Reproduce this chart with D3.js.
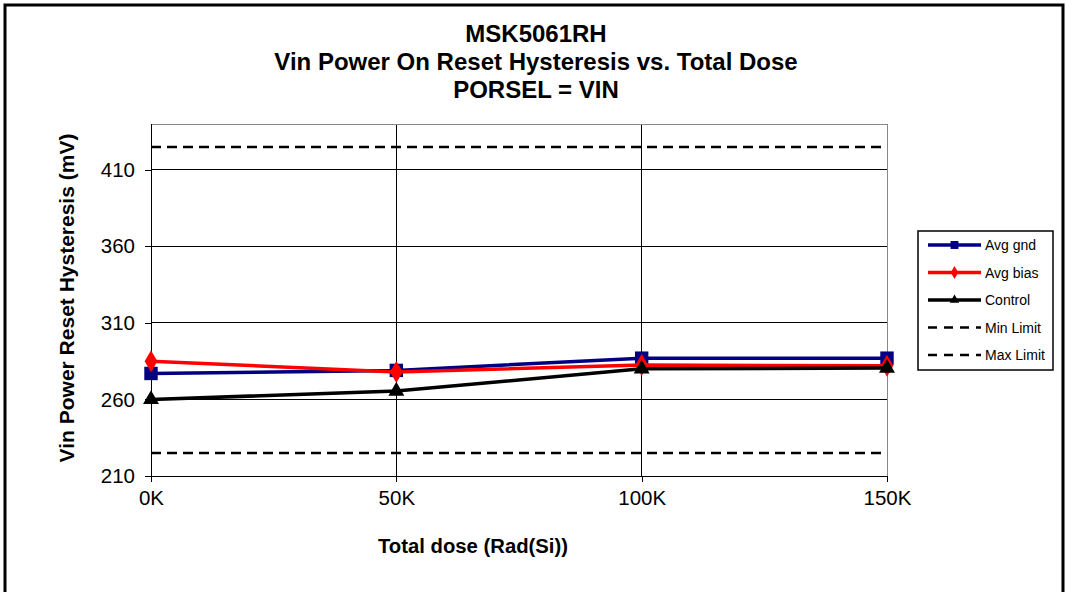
<!DOCTYPE html>
<html>
<head>
<meta charset="utf-8">
<script src="https://cdn.jsdelivr.net/npm/d3@7"></script>
<style>
  body { margin: 0; background: #fff; }
  svg { display: block; font-family: "Liberation Sans", Arial, sans-serif; }
</style>
</head>
<body>
<div id="chart"></div>
<script>
var width = 1066, height = 592;

// data
var doses = [0, 50000, 100000, 150000];
var doseLabels = ["0K", "50K", "100K", "150K"];
var avgGnd = [277, 279, 287, 287];
var avgBias = [285, 278, 282.5, 282];
var control = [260, 265.5, 280, 280.5];
var minLimit = 225;
var maxLimit = 425;
var yTicks = [210, 260, 310, 360, 410];
var titleLines = ["MSK5061RH", "Vin Power On Reset Hysteresis vs. Total Dose", "PORSEL = VIN"];

var plot = {left: 151, right: 887, top: 124, bottom: 476};

var x = d3.scaleLinear().domain([0, 150000]).range([plot.left, plot.right]);
var y = d3.scaleLinear().domain([210, 440]).range([plot.bottom, plot.top]);

var svg = d3.select("#chart").append("svg")
  .attr("width", width)
  .attr("height", height);

// outer frame
svg.append("path")
  .attr("d", "M5,592 V5 H1063 V592")
  .attr("fill", "none")
  .attr("stroke", "#000")
  .attr("stroke-width", 3);

// title
svg.append("g").selectAll("text")
  .data(titleLines)
  .enter().append("text")
  .attr("x", 536)
  .attr("y", (d, i) => 42 + i * 28)
  .attr("text-anchor", "middle")
  .attr("font-size", 24)
  .attr("font-weight", "bold")
  .text(d => d);

// grid
var grid = svg.append("g");
grid.selectAll(".hg")
  .data(yTicks)
  .enter().append("line")
  .attr("x1", plot.left).attr("x2", plot.right)
  .attr("y1", d => y(d)).attr("y2", d => y(d))
  .attr("stroke", "#000").attr("stroke-width", 1)
  .attr("shape-rendering", "crispEdges");
grid.selectAll(".vg")
  .data(doses.slice(1))
  .enter().append("line")
  .attr("x1", d => x(d)).attr("x2", d => x(d))
  .attr("y1", plot.top).attr("y2", plot.bottom)
  .attr("stroke", (d, i) => i == 2 ? "#888" : "#000").attr("stroke-width", 1)
  .attr("shape-rendering", "crispEdges");
grid.append("line")
  .attr("x1", plot.left).attr("x2", plot.right)
  .attr("y1", plot.top).attr("y2", plot.top)
  .attr("stroke", "#888").attr("stroke-width", 1)
  .attr("shape-rendering", "crispEdges");

// axes
var yAxis = svg.append("g")
  .attr("transform", "translate(" + plot.left + ",0)")
  .call(d3.axisLeft(y).tickValues(yTicks).tickSize(6).tickPadding(10).tickSizeOuter(0));
var xAxis = svg.append("g")
  .attr("transform", "translate(0," + plot.bottom + ")")
  .call(d3.axisBottom(x).tickValues(doses).tickFormat((d, i) => doseLabels[i]).tickSize(6).tickPadding(8).tickSizeOuter(0));
[yAxis, xAxis].forEach(a => {
  a.selectAll("text").attr("font-size", 20.5).attr("font-family", "Liberation Sans, Arial, sans-serif").attr("fill", "#000");
  a.selectAll("line, path").attr("stroke", "#000").attr("shape-rendering", "crispEdges");
});
yAxis.select(".domain").attr("d", "M0," + plot.top + "V" + plot.bottom);

// axis titles
svg.append("text")
  .attr("transform", "translate(74," + ((plot.top + plot.bottom) / 2 - 2) + ") rotate(-90)")
  .attr("text-anchor", "middle")
  .attr("font-size", 21)
  .attr("font-weight", "bold")
  .text("Vin Power Reset Hysteresis (mV)");
svg.append("text")
  .attr("x", 473)
  .attr("y", 553)
  .attr("text-anchor", "middle")
  .attr("font-size", 20.3)
  .attr("font-weight", "bold")
  .text("Total dose (Rad(Si))");

// limit lines
[minLimit, maxLimit].forEach(v => {
  svg.append("line")
    .attr("x1", plot.left).attr("x2", plot.right)
    .attr("y1", y(v)).attr("y2", y(v))
    .attr("stroke", "#000").attr("stroke-width", 2.5)
    .attr("stroke-dasharray", "10,6");
});

var series = [
  {name: "Avg gnd", values: avgGnd, color: "#000080", symbol: d3.symbolSquare, size: 180},
  {name: "Avg bias", values: avgBias, color: "#ff0000", symbol: d3.symbolDiamond, size: 140},
  {name: "Control", values: control, color: "#000000", symbol: d3.symbolTriangle, size: 110}
];

var line = d3.line().x((d, i) => x(doses[i])).y(d => y(d));

series.forEach(s => {
  svg.append("path")
    .datum(s.values)
    .attr("d", line)
    .attr("fill", "none")
    .attr("stroke", s.color)
    .attr("stroke-width", 3.5);
  svg.append("g").selectAll("path")
    .data(s.values)
    .enter().append("path")
    .attr("transform", (d, i) => "translate(" + x(doses[i]) + "," + y(d) + ")")
    .attr("d", d3.symbol().type(s.symbol).size(s.size))
    .attr("fill", s.color);
});

// legend
var legend = svg.append("g").attr("transform", "translate(918,231)");
legend.append("rect")
  .attr("width", 135).attr("height", 139)
  .attr("fill", "#fff").attr("stroke", "#000").attr("stroke-width", 1.5);
var legendItems = series.concat([
  {name: "Min Limit", color: "#000", dash: true},
  {name: "Max Limit", color: "#000", dash: true}
]);
legendItems.forEach((s, i) => {
  var gy = 14 + i * 27.5;
  legend.append("line")
    .attr("x1", 10).attr("x2", 63)
    .attr("y1", gy).attr("y2", gy)
    .attr("stroke", s.color)
    .attr("stroke-width", s.dash ? 2.5 : 3.5)
    .attr("stroke-dasharray", s.dash ? "9,7" : null);
  if (s.symbol) {
    legend.append("path")
      .attr("transform", "translate(36.5," + gy + ")")
      .attr("d", d3.symbol().type(s.symbol).size(s.size * 0.35))
      .attr("fill", s.color);
  }
  legend.append("text")
    .attr("x", 67).attr("y", gy + 5)
    .attr("font-size", 14)
    .text(s.name);
});
</script>
</body>
</html>
